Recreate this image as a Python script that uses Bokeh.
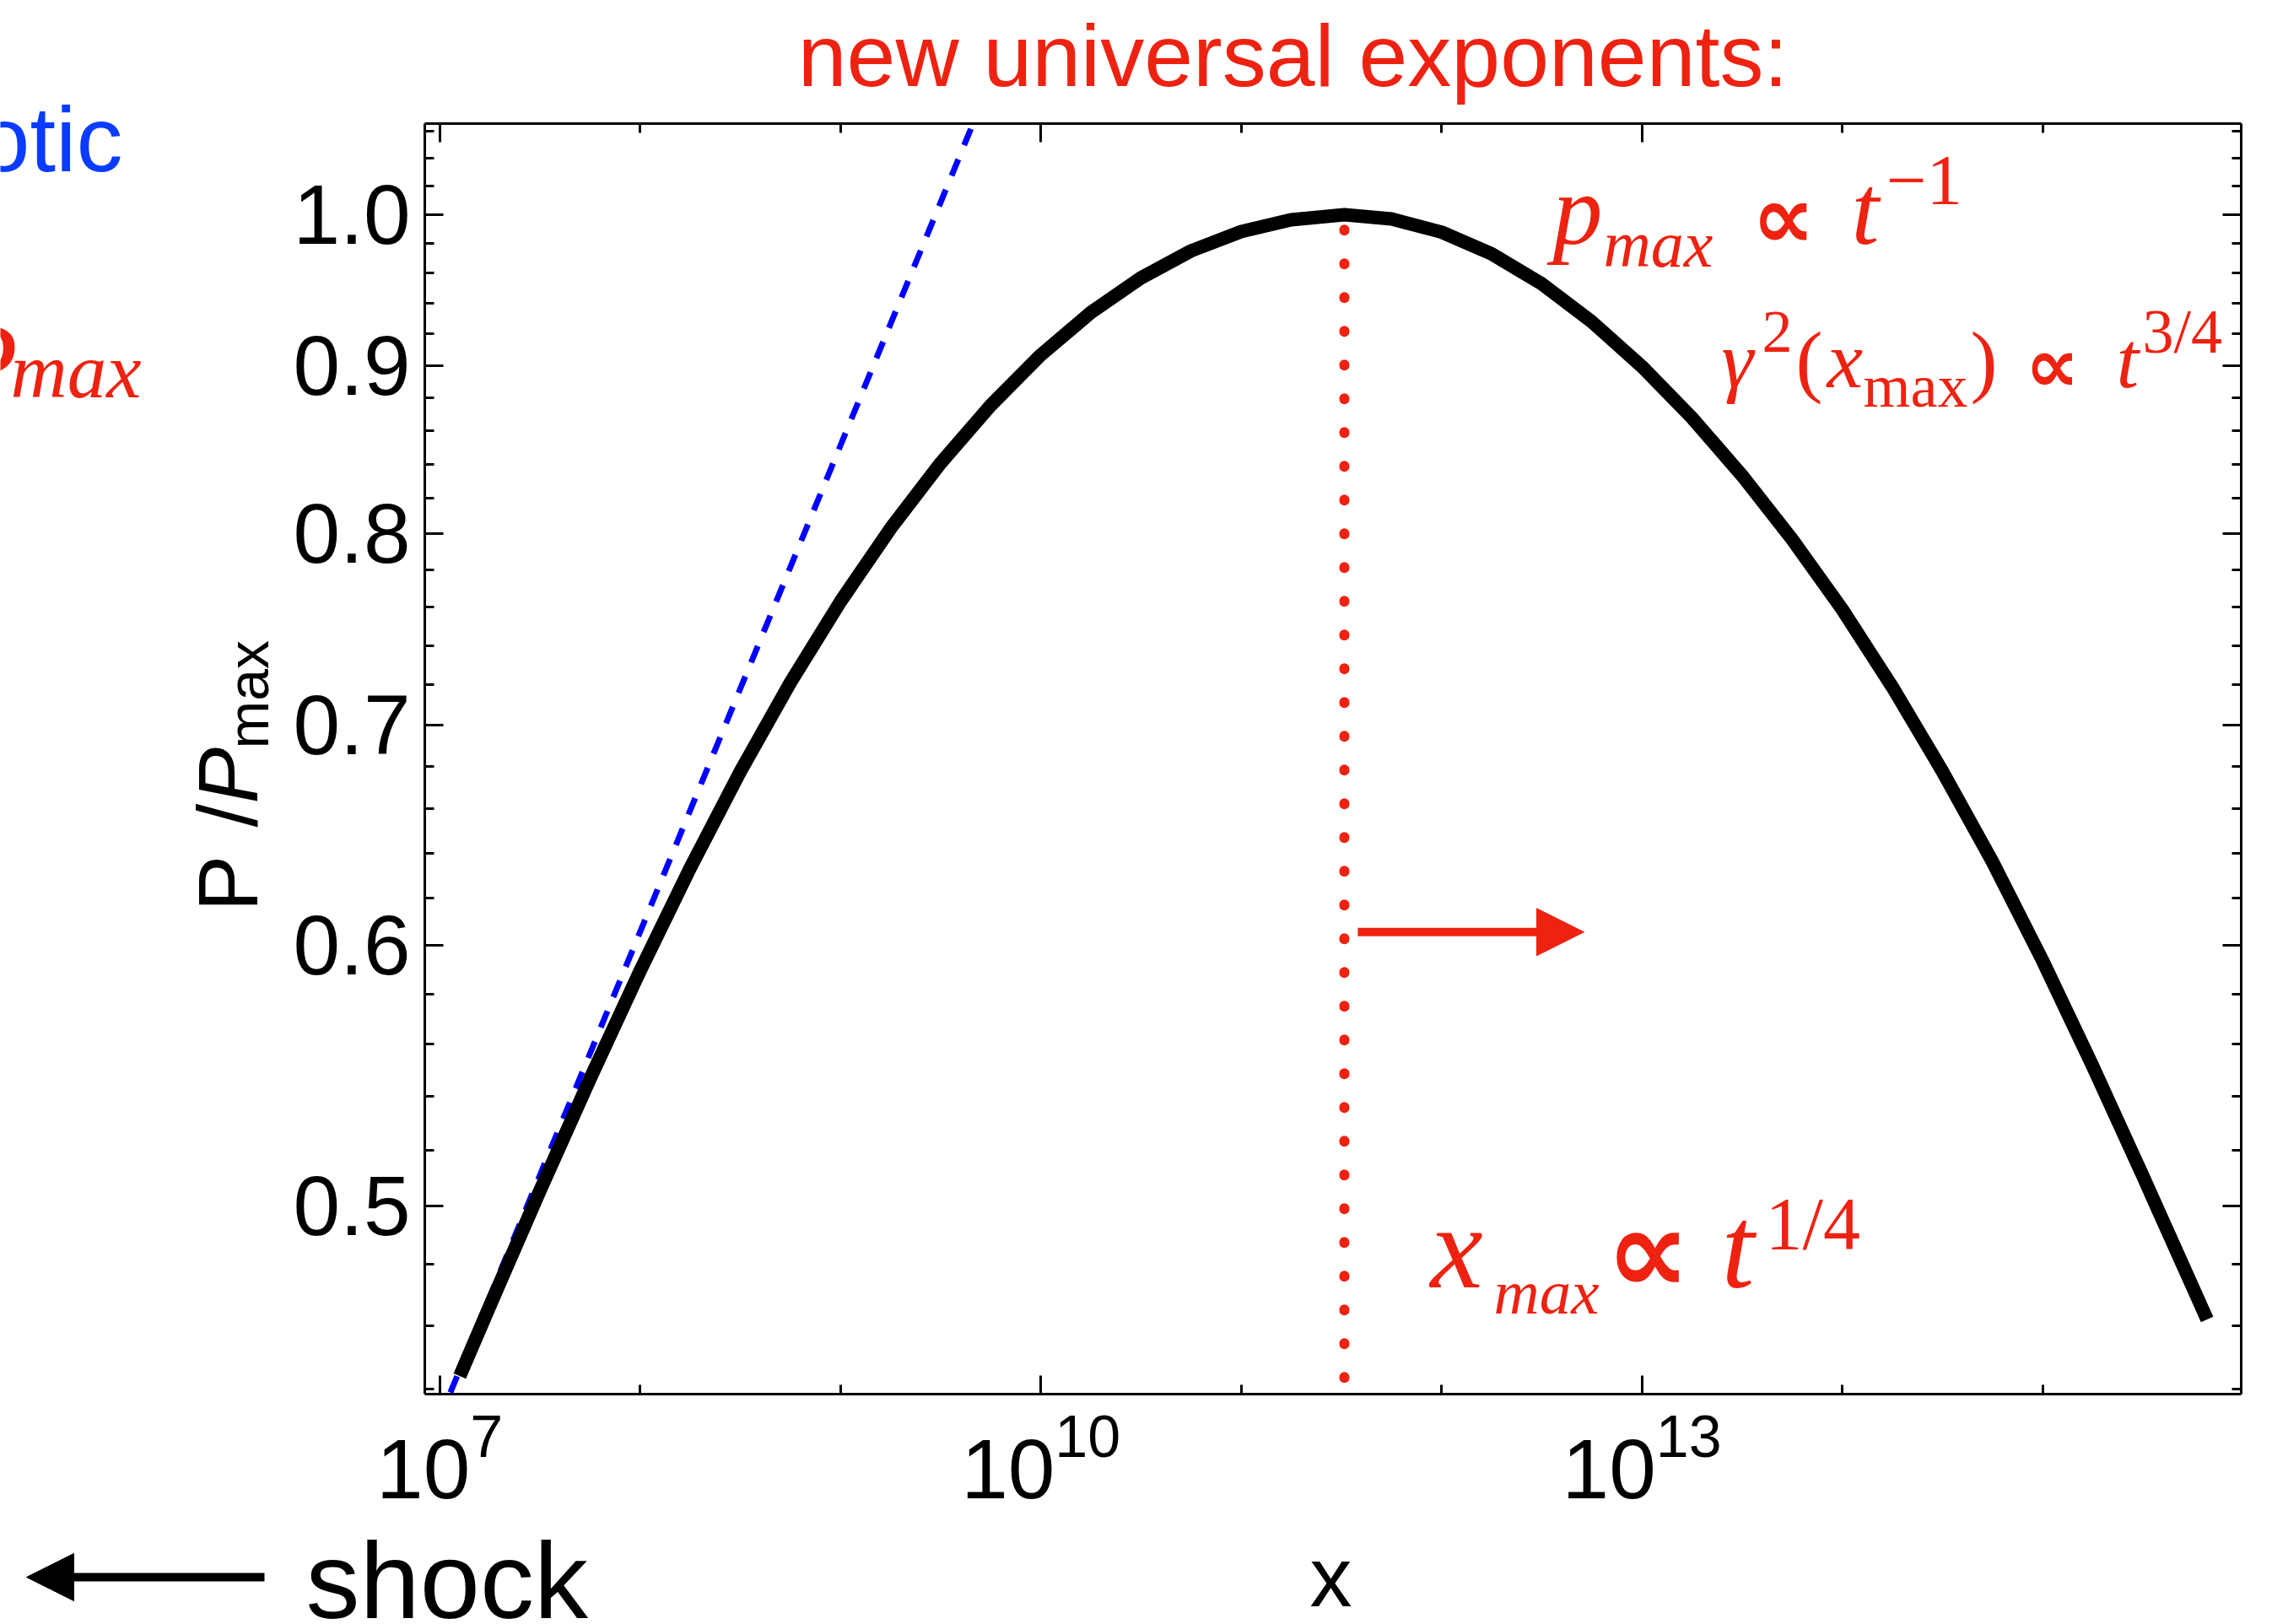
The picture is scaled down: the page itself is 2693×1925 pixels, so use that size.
import math
from bokeh.plotting import figure
from bokeh.models import (LogAxis, FixedTicker, PrintfTickFormatter, LogTickFormatter,
                          Label, Arrow, NormalHead, Range1d, LogScale)
from bokeh.embed import file_html
from bokeh.resources import INLINE

# ---------------- data ----------------
x_curve = [1.259e7, 1.778e7, 3.162e7, 5.623e7, 1.0e8, 1.778e8, 3.162e8, 5.623e8,
           1.0e9, 1.778e9, 3.162e9, 5.623e9, 1.0e10, 1.778e10, 3.162e10, 5.623e10,
           1.0e11, 1.778e11, 3.273e11, 5.623e11, 1.0e12, 1.778e12, 3.162e12,
           5.623e12, 1.0e13, 1.778e13, 3.162e13, 5.623e13, 1.0e14, 1.778e14,
           3.162e14, 5.623e14, 1.0e15, 1.778e15, 3.162e15, 5.623e15, 6.622e15]
y_curve = [0.4440, 0.4663, 0.5054, 0.5465, 0.5894, 0.6333, 0.6775, 0.7210,
           0.7630, 0.8030, 0.8406, 0.8752, 0.9066, 0.9339, 0.9568, 0.9750,
           0.9883, 0.9965, 1.0000, 0.9970, 0.9879, 0.9730, 0.9528,
           0.9279, 0.8993, 0.8676, 0.8333, 0.7969, 0.7588, 0.7188,
           0.6776, 0.6361, 0.5936, 0.5514, 0.5107, 0.4723, 0.4619]

x_asym = [1.13e7, 4.59e9]          # blue dashed asymptote
y_asym = [0.4389, 1.0658]

x_peak = [3.273e11, 3.273e11]      # red dotted line at x_max
y_peak = [0.9896, 0.4428]

arrow_x = [3.82e11, 5.14e12]       # red arrow
arrow_y = 0.6056

x_major = [1e7, 1e10, 1e13]
x_minor = [1e8, 1e9, 1e11, 1e12, 1e14, 1e15]
y_major = [0.5, 0.6, 0.7, 0.8, 0.9, 1.0]
y_minor = [0.44, 0.46, 0.48, 0.52, 0.54, 0.56, 0.58, 0.62, 0.64, 0.66, 0.68,
           0.72, 0.74, 0.76, 0.78, 0.82, 0.84, 0.86, 0.88, 0.92, 0.94, 0.96,
           0.98, 1.02, 1.04, 1.06]

# ---------------- layout ----------------
W, H = 2693, 1925
L, R, T, B = 503, 2656, 146, 1652          # plot box inside the canvas
XL0, XL1 = 6.9255, 15.991
YL0, YL1 = -0.3581, 0.02766

RED = "#ee2211"
BLUE = "#0000ff"


def X(px):
    return 10 ** (XL0 + (px - L) / (R - L) * (XL1 - XL0))


def Y(py):
    return 10 ** (YL1 - (py - T) / (B - T) * (YL1 - YL0))


XMIN, XMAX = 10 ** XL0, 10 ** XL1
YMIN, YMAX = 10 ** YL0, 10 ** YL1

p = figure(width=W, height=H, x_axis_type=None, y_axis_type=None,
           x_range=Range1d(X(0), X(W)), y_range=Range1d(Y(H), Y(0)),
           output_backend="svg", toolbar_location=None, title=None,
           min_border_left=0, min_border_right=0, min_border_top=0,
           min_border_bottom=0)
p.x_scale = LogScale()
p.y_scale = LogScale()
p.outline_line_color = None
p.background_fill_color = "white"
p.border_fill_color = "white"

xt = FixedTicker(ticks=x_major, minor_ticks=x_minor)
yt = FixedTicker(ticks=y_major, minor_ticks=y_minor)


def style(ax, labels):
    ax.axis_line_width = 3
    ax.axis_line_color = "black"
    ax.major_tick_line_width = 3
    ax.minor_tick_line_width = 3
    ax.major_tick_in = 22
    ax.major_tick_out = 0
    ax.minor_tick_in = 11
    ax.minor_tick_out = 0
    ax.major_label_text_font = "Liberation Sans"
    ax.major_label_text_color = "black"
    if labels:
        ax.major_label_text_font_size = "100px"
    else:
        ax.major_label_text_font_size = "1px"
        ax.major_label_text_alpha = 0
        ax.major_label_standoff = 0


bx = LogAxis(ticker=xt, formatter=LogTickFormatter(), fixed_location=YMIN,
             bounds=(XMIN, XMAX))
style(bx, True)
bx.major_label_standoff = 20
p.add_layout(bx, "below")

tx = LogAxis(ticker=xt, fixed_location=YMAX, bounds=(XMIN, XMAX))
style(tx, False)
p.add_layout(tx, "above")

ly = LogAxis(ticker=yt, formatter=PrintfTickFormatter(format="%.1f"),
             fixed_location=XMIN, bounds=(YMIN, YMAX))
style(ly, True)
ly.major_label_standoff = 17
p.add_layout(ly, "left")

ry = LogAxis(ticker=yt, fixed_location=XMAX, bounds=(YMIN, YMAX))
style(ry, False)
p.add_layout(ry, "right")

# ---------------- glyphs ----------------
p.line(x_asym, y_asym, line_color=BLUE, line_width=7, line_dash="21 18")
p.line(x_curve, y_curve, line_color="black", line_width=16, line_join="round")
p.line(x_peak, y_peak, line_color=RED, line_width=12, line_dash="1 39",
       line_cap="round")

p.add_layout(Arrow(x_start=arrow_x[0], y_start=arrow_y, x_end=arrow_x[1], y_end=arrow_y,
                   line_color=RED, line_width=10,
                   end=NormalHead(size=56, fill_color=RED, line_color=RED, line_width=1)))

# shock arrow, left of the axis
p.add_layout(Arrow(x_start=X(313), y_start=Y(1869), x_end=X(31), y_end=Y(1869),
                   line_color="black", line_width=10,
                   end=NormalHead(size=56, fill_color="black", line_color="black",
                                  line_width=1)))

SHIFT = 0.28   # baseline correction (fraction of font size)


def lab(text, px, py, size, font="Liberation Sans", style_="normal", color="black",
        align="left", angle=0.0):
    if angle:
        px = px - SHIFT * size
    else:
        py = py - SHIFT * size
    p.add_layout(Label(x=X(px), y=Y(py), text=text, text_font=font,
                       text_font_size=f"{size}px", text_font_style=style_,
                       text_color=color, text_align=align, text_baseline="alphabetic",
                       angle=angle))


SERIF = "Liberation Serif"
SYM = "DejaVu Sans"

# title and side texts
lab("new universal exponents:", 1532, 95, 104, color=RED, align="center")
lab("asymptotic", 145, 195, 110, color="#0a3cff", align="right")
lab("P", -65, 470, 140, font=SERIF, style_="italic", color=RED)
lab("max", 12, 465, 93, font=SERIF, style_="italic", color=RED)

# axis titles
lab("x", 1577, 1896, 100, align="center")
lab("shock", 362, 1909, 128)
ang = math.pi / 2
lab("P", 297, 1080, 100, angle=ang)
lab("/", 297, 980, 100, angle=ang)
lab("P", 297, 952, 100, style_="italic", angle=ang)
lab("max", 313, 887, 68, angle=ang)

# row 1: p_max ∝ t^-1
lab("p", 1840, 282, 118, font=SERIF, style_="italic", color=RED)
lab("max", 1900, 311, 78, font=SERIF, style_="italic", color=RED)
lab("\u221d", 2076, 287, 105, font=SYM, style_="bold", color=RED)
lab("t", 2194, 282, 118, font=SERIF, style_="italic", color=RED)
lab("\u22121", 2235, 237, 85, font=SERIF, color=RED)

# row 2: γ^2(x_max) ∝ t^{3/4}
lab("\u03b3", 2040, 453, 96, font=SERIF, style_="italic", color=RED)
lab("2", 2088, 413, 72, font=SERIF, color=RED)
lab("(", 2128, 453, 96, font=SERIF, color=RED)
lab("x", 2165, 453, 96, font=SERIF, style_="italic", color=RED)
lab("max", 2208, 478, 72, font=SERIF, color=RED)
lab(")", 2335, 453, 96, font=SERIF, color=RED)
lab("\u221d", 2400, 457, 90, font=SYM, style_="bold", color=RED)
lab("t", 2508, 453, 96, font=SERIF, style_="italic", color=RED)
lab("3/4", 2539, 413, 74, font=SERIF, color=RED)

# row 3: x_max ∝ t^{1/4}
lab("x", 1695, 1517, 140, font=SERIF, style_="italic", color=RED)
lab("max", 1770, 1552, 75, font=SERIF, style_="italic", color=RED)
lab("\u221d", 1903, 1522, 140, font=SYM, style_="bold", color=RED)
lab("t", 2040, 1517, 140, font=SERIF, style_="italic", color=RED)
lab("1/4", 2092, 1475, 88, font=SERIF, color=RED)

open("out.html", "w").write(file_html(p, INLINE))
